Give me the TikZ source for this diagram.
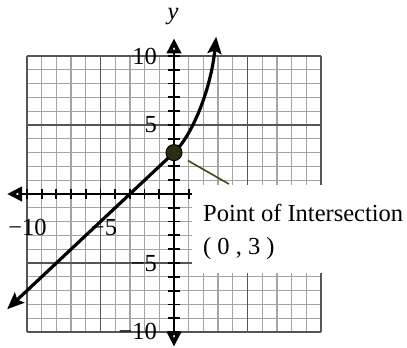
\documentclass[tikz,border=0pt]{standalone}
\usepackage{fontspec}
\setmainfont{Liberation Serif}
\usetikzlibrary{arrows.meta}
\definecolor{minorgrid}{HTML}{A4A4A4}
\definecolor{majorgrid}{HTML}{555555}
\definecolor{olivedot}{HTML}{2E2E12}
\definecolor{leadercol}{HTML}{45451C}
\begin{document}
\begin{tikzpicture}[x=14.7pt,y=13.8pt,
  minorline/.style={draw=minorgrid,line width=1.3pt},
  majorline/.style={draw=majorgrid,line width=1.4pt},
  axisline/.style={draw=black,line width=2.2pt},
  axtip/.tip={Triangle[fill=white,length=15pt,width=14pt,line width=4pt]},
  tickline/.style={draw=black,line width=1.8pt},
  curveline/.style={draw=black,line width=3.2pt,line cap=round},
  curvetip/.tip={Stealth[length=17pt,width=14pt,inset=3pt]},
  leader/.style={draw=leadercol,line width=1.6pt,shorten <=7.5pt},
  lbl/.style={font=\fontsize{24.5}{28}\selectfont,inner sep=0pt}
]
\useasboundingbox (-174pt,-154pt) rectangle (233pt,194pt);
% grid
\foreach \i in {-10,...,10} {
  \draw[minorline] (\i,-10) -- (\i,10);
  \draw[minorline] (-10,\i) -- (10,\i);
}
\foreach \i in {-10,-5,5,10} {
  \draw[majorline] (\i,-10) -- (\i,10);
  \draw[majorline] (-10,\i) -- (10,\i);
}
% axes
\draw[axisline,axtip-] (-11.36,0) -- (10,0);
\draw[axisline,axtip-axtip] (0,-11.06) -- (0,11.28);
\foreach \i in {-10,...,-1,1} {
  \draw[tickline] (\i,0) ++(0,-5pt) -- ++(0,10pt);
}
\foreach \i in {-10,...,-1,1,2,...,10} {
  \draw[tickline] (0,\i) ++(-6pt,0) -- ++(12pt,0);
}
% white label area
\fill[white] (1.2,0.652) rectangle (16,-5.75);
% axis labels
\node[lbl,anchor=east] (ly10) at (-1.15,10) {10};
\node[lbl,anchor=east] (ly5) at (-1.15,5) {5};
\node[lbl,anchor=east] (lym5) at (-1.15,-5.04) {−5};
\node[lbl,anchor=east] (lym10) at (-1.15,-9.93) {−10};
\node[lbl] (lxm10) at (-9.97,-2.46) {−10};
\node[lbl] (lxm5) at (-4.76,-2.46) {−5};
\node[lbl,font=\fontsize{24.5}{28}\selectfont\itshape] (ylab) at (-0.07,12.83) {y};
% curve
\draw[curveline,curvetip-curvetip] (-11.35,-8.35) -- (0,3)
  .. controls (1.2,4.2) and (2.5,7.5) .. (2.87,11.4);
% point and leader
\node[circle,fill=olivedot,draw=black,line width=1pt,minimum size=16pt,inner sep=0pt] (pt) at (0,3) {};
\coordinate (leadend) at (3.74,0.72);
\draw[leader] (pt) -- (leadend);
% text
\node[lbl,anchor=base west] (poi) at (1.97,-2.0) {Point of Intersection};
\node[lbl,anchor=base west] (coord) at (1.97,-4.42) {( 0 , 3 )};
\end{tikzpicture}
\end{document}
